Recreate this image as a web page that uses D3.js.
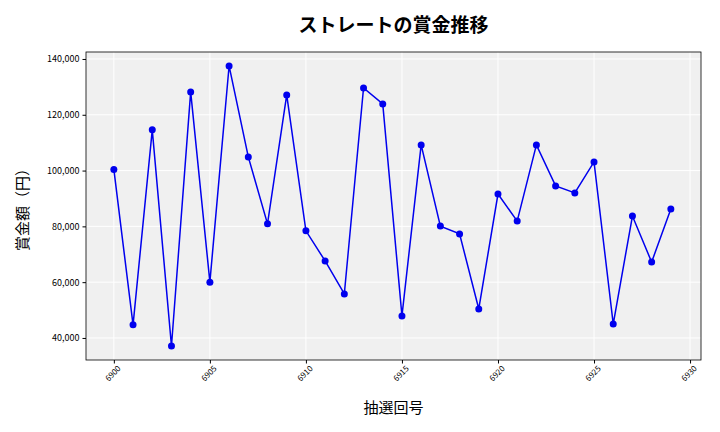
<!DOCTYPE html>
<html><head><meta charset="utf-8">
<script src="https://cdn.jsdelivr.net/npm/d3@7"></script>
<style>body{margin:0;background:#fff}text{font-family:"Noto Sans CJK JP","Noto Sans",sans-serif}</style>
</head><body>
<svg width="720" height="432"></svg>
<script>
const draws = d3.range(6900, 6930);
const prizes = [100400, 44700, 114600, 37100, 128200, 60000, 137500, 104900, 80900, 127100,
  78400, 67600, 55800, 129600, 123900, 47900, 109200, 80100, 77300, 50400,
  91600, 81900, 109200, 94500, 92000, 103100, 45000, 83700, 67200, 86200];
const xTicks = [6900, 6905, 6910, 6915, 6920, 6925, 6930];
const yTicks = [40000, 60000, 80000, 100000, 120000, 140000];

const svg = d3.select('svg');
const m = {l: 86, r: 701, t: 52, b: 360};
const x = d3.scaleLinear().domain([6898.55, 6930.57]).range([m.l, m.r]);
const y = d3.scaleLinear().domain([32100, 142500]).range([m.b, m.t]);

svg.append('rect').attr('x', m.l).attr('y', m.t).attr('width', m.r - m.l).attr('height', m.b - m.t)
  .attr('fill', '#f0f0f0');

const g = svg.append('g');
g.selectAll('.gx').data(xTicks).enter().append('line')
  .attr('x1', d => x(d)).attr('x2', d => x(d)).attr('y1', m.t).attr('y2', m.b)
  .attr('stroke', '#fff').attr('stroke-width', 1);
g.selectAll('.gy').data(yTicks).enter().append('line')
  .attr('y1', d => y(d)).attr('y2', d => y(d)).attr('x1', m.l).attr('x2', m.r)
  .attr('stroke', '#fff').attr('stroke-width', 1);

svg.append('rect').attr('x', m.l).attr('y', m.t).attr('width', m.r - m.l).attr('height', m.b - m.t)
  .attr('fill', 'none').attr('stroke', '#000').attr('stroke-width', 0.8);

const xa = svg.append('g').attr('transform', `translate(0,${m.b})`)
  .call(d3.axisBottom(x).tickValues(xTicks).tickFormat(d3.format('d')).tickSize(3.5));
xa.select('.domain').remove();
xa.selectAll('text').attr('font-size', 8).attr('text-anchor', 'end')
  .attr('transform', 'rotate(-45)').attr('dx', '-0.2em').attr('dy', '0.6em');

const ya = svg.append('g').attr('transform', `translate(${m.l},0)`)
  .call(d3.axisLeft(y).tickValues(yTicks).tickFormat(d3.format(',')).tickSize(3.5));
ya.select('.domain').remove();
ya.selectAll('text').attr('font-size', 9);

const line = d3.line().x((d, i) => x(draws[i])).y(d => y(d));
svg.append('path').datum(prizes).attr('d', line)
  .attr('fill', 'none').attr('stroke', '#0000ee').attr('stroke-width', 1.5);
svg.selectAll('.pt').data(prizes).enter().append('circle')
  .attr('cx', (d, i) => x(draws[i])).attr('cy', d => y(d)).attr('r', 3.5).attr('fill', '#0000ee');

svg.append('text').attr('x', (m.l + m.r) / 2).attr('y', 32).attr('text-anchor', 'middle')
  .attr('font-size', 19).attr('font-weight', 'bold').text('ストレートの賞金推移');
svg.append('text').attr('x', (m.l + m.r) / 2).attr('y', 413).attr('text-anchor', 'middle')
  .attr('font-size', 15).text('抽選回号');
svg.append('text').attr('transform', `translate(28,${(m.t + m.b) / 2}) rotate(-90)`)
  .attr('text-anchor', 'middle').attr('font-size', 15).text('賞金額（円）');
</script>
</body></html>
